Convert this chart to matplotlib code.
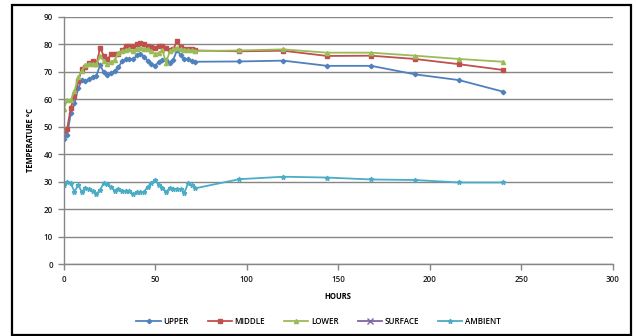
import matplotlib
matplotlib.use("Agg")
import matplotlib.pyplot as plt
from matplotlib.patches import Rectangle

hours = [0, 2, 4, 6, 8, 10, 12, 14, 16, 18, 20, 22, 24, 26, 28, 30, 32, 34, 36, 38,
         40, 42, 44, 46, 48, 50, 52, 54, 56, 58, 60, 62, 64, 66, 68, 70, 72,
         96, 120, 144, 168, 192, 216, 240]

upper = [45.5, 47, 55, 58.5, 64, 67, 66.5, 67.3, 68.3, 68.6, 72.5, 69.8, 68.8, 69.5, 70.5,
         71.6, 74, 74.6, 74.6, 74.6, 76, 76.7, 75.5, 74, 72.8, 72.3, 73.5, 74.2, 74.2, 73.4,
         74.5, 78, 76, 74.6, 74.6, 74, 73.7, 73.8, 74.1, 72.2, 72.2, 69.1, 67, 62.8]

middle = [48.4, 49.3, 57, 61.3, 66.5, 71, 71.6, 73.4, 74, 72.8, 78.8, 75.8, 74.6, 76.4, 76.5,
          76.6, 78, 79.3, 79.6, 79.6, 80.2, 80.6, 80, 79.5, 79, 78.8, 79.4, 79.6, 78.8, 77.8,
          78.5, 81.2, 79, 78.2, 78.2, 78.2, 77.8, 77.5, 77.7, 75.8, 75.9, 74.7, 72.8, 70.7]

lower = [56.5, 59.6, 59.8, 63, 68, 70.4, 72.5, 73, 73, 72.8, 75.8, 74, 73, 73.5, 74.5,
         77, 77.6, 78, 78.2, 77.6, 78.5, 78.8, 78.5, 78.2, 77.6, 76.5, 77, 77.8, 73.4, 77.5,
         78.3, 78.8, 78.2, 78.1, 78, 77.8, 77.6, 77.8, 78.2, 77, 77, 75.9, 74.7, 73.7]

surface = []

ambient = [28.8, 30, 29.4, 26.3, 28.8, 26.3, 27.6, 27.2, 26.7, 25.5, 27, 29.6, 29, 28, 26.7,
           27.2, 26.7, 26.7, 26.7, 25.4, 26.2, 26.3, 26.3, 28.2, 29.4, 30.6, 28.8, 27.8, 26.3,
           27.6, 27.4, 27.2, 27.2, 26, 29.4, 28.8, 27.6, 30.9, 31.8, 31.5, 30.8, 30.6, 29.7, 29.7]

x_ticks = [0, 50, 100, 150, 200, 250, 300]
y_ticks = [0, 10, 20, 30, 40, 50, 60, 70, 80, 90]

plt.rcParams['font.family'] = ['Open Sans', 'DejaVu Sans']

fig = plt.figure(figsize=(6.37, 3.36), dpi=100)
fig.patch.set_facecolor('white')
fig.add_artist(Rectangle((12 / 637, 1 / 336), 619 / 637, 330 / 336, transform=fig.transFigure,
                         fill=False, edgecolor='black', linewidth=1.6))

ax = fig.add_axes([63.5 / 637, 1 - 264 / 336, (613 - 63.5) / 637, (264 - 17) / 336])

grey = '#868686'
lw = 1.3
ms = 3
ax.plot(hours, upper, color='#4F81BD', marker='D', ms=2.3, lw=lw, label='UPPER')
ax.plot(hours, middle, color='#C0504D', marker='s', ms=ms, lw=lw, label='MIDDLE')
ax.plot(hours, lower, color='#9BBB59', marker='^', ms=ms, lw=lw, label='LOWER')
ax.plot(surface, surface, color='#8064A2', marker='x', ms=5, lw=lw, label='SURFACE')
ax.plot(hours, ambient, color='#4BACC6', marker='*', ms=3.5, lw=lw, label='AMBIENT')

ax.set_xlim(0, 300)
ax.set_ylim(0, 90)
ax.set_xticks(x_ticks)
ax.set_yticks(y_ticks)
ax.grid(axis='y', color=grey, lw=1)
ax.set_axisbelow(True)
for s in ['top', 'right']:
    ax.spines[s].set_visible(False)
for s in ['left', 'bottom']:
    ax.spines[s].set_color(grey)
    ax.spines[s].set_linewidth(1)
ax.tick_params(axis='both', colors=grey, labelcolor='#1a1a1a', labelsize=5.8, length=4, width=1)
ax.tick_params(axis='x', pad=4)
for lbl in ax.get_xticklabels() + ax.get_yticklabels():
    lbl.set_fontweight('semibold')
ax.set_xlabel('HOURS', fontsize=5.5, fontweight='bold', labelpad=6)
ax.set_ylabel('TEMPERATURE °C', fontsize=5.5, fontweight='bold', labelpad=6)

leg = ax.legend(loc='center', bbox_to_anchor=(0.5, (336 - 321) / 336), bbox_transform=fig.transFigure,
                ncol=5, frameon=False, fontsize=5.8, handlelength=3, columnspacing=2.4,
                handletextpad=0.3, prop={'size': 5.8, 'weight': 'semibold'})

fig.savefig('out.png', dpi=100)
